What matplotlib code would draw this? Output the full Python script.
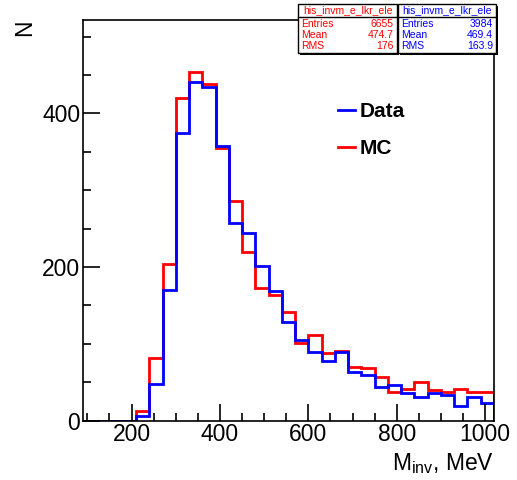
import matplotlib
matplotlib.use("Agg")
import matplotlib.pyplot as plt
import numpy as np
from matplotlib.lines import Line2D
from matplotlib.patches import Rectangle
from matplotlib.ticker import MultipleLocator

plt.rcParams['font.family'] = ['Liberation Sans', 'DejaVu Sans']

# 31 bins of 30 MeV from 90 to 1020
edges = np.arange(90, 1021, 30)

# Monte Carlo (red)
mc_counts = [0, 0, 0, 0, 13, 82, 204, 420, 454, 438, 355, 286, 220, 173, 163, 141,
             101, 112, 88, 91, 70, 69, 57, 37, 41, 50, 40, 38, 41, 37, 37]
# Data (blue)
data_counts = [0, 0, 0, 0, 6, 48, 170, 374, 441, 434, 358, 257, 244, 201, 169, 128,
               105, 90, 78, 89, 63, 59, 44, 46, 36, 31, 36, 33, 19, 31, 23]

hist_name = "his_invm_e_lkr_ele"
mc_stats = [("Entries", "6655"), ("Mean", "474.7"), ("RMS", "176")]
data_stats = [("Entries", "3984"), ("Mean", "469.4"), ("RMS", "163.9")]

fig = plt.figure(figsize=(5.17, 4.8), dpi=100)
ax = fig.add_axes([0.1605, 0.1235, 0.795, 0.8355])

ax.stairs(mc_counts, edges, color='#ff0000', linewidth=2, baseline=0)
ax.stairs(data_counts, edges, color='#0000ff', linewidth=2, baseline=0)

ax.set_xlim(90, 1020)
ax.set_ylim(0, 522)

ax.xaxis.set_major_locator(MultipleLocator(200))
ax.xaxis.set_minor_locator(MultipleLocator(50))
ax.yaxis.set_major_locator(MultipleLocator(200))
ax.yaxis.set_minor_locator(MultipleLocator(50))
ax.tick_params(which='both', direction='in', top=False, right=False, labelsize=16.5, width=1.2)
ax.tick_params(which='major', length=12, pad=2)
ax.tick_params(which='minor', length=6)
for s in ax.spines.values():
    s.set_linewidth(1.2)

ax.set_xlabel(r"M$_{\mathregular{inv}}$, MeV", fontsize=16.5, loc='right')
ax.xaxis.set_label_coords(1.0, -0.075)
ax.set_ylabel("N", fontsize=16.5, loc='top')
ax.yaxis.set_label_coords(-0.115, 1.0)

handles = [Line2D([], [], color='#0000ff', lw=2), Line2D([], [], color='#ff0000', lw=2)]
ax.legend(handles, ["Data", "MC"], loc='upper left', bbox_to_anchor=(0.595, 0.82),
          frameon=False, handlelength=0.8, handletextpad=0.25, labelspacing=0.85,
          borderpad=0, prop={'weight': 'bold', 'size': 15})

# stats boxes, ROOT style
def stats_box(x0, x1, color, rows):
    y0, y1, ytitle = 1 - 53 / 480, 1 - 4 / 480, 1 - 17 / 480
    fig.patches.append(Rectangle((x0 + 0.004, y0 - 0.005), x1 - x0, y1 - y0,
                                 transform=fig.transFigure, facecolor='black', zorder=5))
    fig.patches.append(Rectangle((x0, y0), x1 - x0, y1 - y0, transform=fig.transFigure,
                                 facecolor='white', edgecolor='black', lw=1, zorder=6))
    fig.lines.append(Line2D([x0, x1], [ytitle, ytitle], transform=fig.transFigure,
                            color='black', lw=1, zorder=7))
    fig.text((x0 + x1) / 2, (ytitle + y1) / 2, hist_name, color=color, fontsize=7.5,
             ha='center', va='center', zorder=8)
    for i, (lab, val) in enumerate(rows):
        yy = 1 - (24 + i * 11) / 480
        fig.text(x0 + 0.006, yy, lab, color=color, fontsize=7.5, ha='left', va='center', zorder=8)
        fig.text(x1 - 0.006, yy, val, color=color, fontsize=7.5, ha='right', va='center', zorder=8)

stats_box(298 / 517, 397 / 517, '#ff0000', mc_stats)
stats_box(398 / 517, 496 / 517, '#0000ff', data_stats)

fig.savefig("out.png", dpi=100)
